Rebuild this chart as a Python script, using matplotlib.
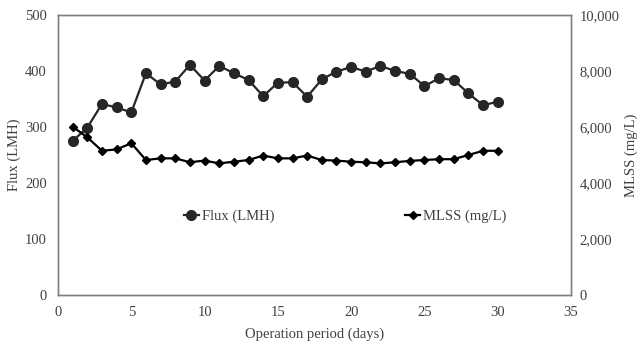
import matplotlib.pyplot as plt

days = list(range(1, 31))
flux = [275, 299, 341, 335, 326, 396, 376, 381, 411, 383,
        409, 396, 384, 355, 379, 380, 354, 385, 399, 407,
        399, 409, 400, 395, 373, 387, 384, 360, 339, 345]
mlss = [6010, 5630, 5150, 5200, 5420, 4820, 4880, 4880, 4740, 4800,
        4700, 4760, 4820, 4980, 4880, 4880, 4980, 4820, 4800, 4760,
        4740, 4700, 4740, 4790, 4820, 4850, 4850, 5000, 5150, 5150]

plt.rcParams["font.family"] = "Liberation Serif"
text_color = "#404040"
spine_color = "#808080"
fs = 10.5

fig = plt.figure(figsize=(6.43, 3.47), dpi=100)
ax = fig.add_axes([0.0902, 0.1499, 0.7978, 0.8069])
ax2 = ax.twinx()

l1, = ax.plot(days, flux, color="#262626", marker="o", markersize=7,
              linewidth=1.6, label="Flux (LMH)")
l2, = ax2.plot(days, mlss, color="black", marker="D", markersize=4.5,
               linewidth=1.6, label="MLSS (mg/L)")

ax.set_xlim(0, 35)
ax.set_ylim(0, 500)
ax2.set_ylim(0, 10000)
ax.set_xticks(range(0, 36, 5))
ax.set_yticks(range(0, 501, 100))
ax2.set_yticks(range(0, 10001, 2000))
ax2.set_yticklabels([f"{v:,}" for v in range(0, 10001, 2000)])

ax.tick_params(axis="y", length=0, labelsize=fs, colors=text_color, pad=8)
ax.tick_params(axis="x", length=0, labelsize=fs, colors=text_color, pad=8)
ax2.tick_params(length=0, labelsize=fs, colors=text_color, pad=6)
for a in (ax, ax2):
    for s in a.spines.values():
        s.set_color(spine_color)
        s.set_linewidth(1.0)

ax.set_xlabel("Operation period (days)", fontsize=fs, color=text_color,
              labelpad=6)
ax.set_ylabel("Flux (LMH)", fontsize=fs, color=text_color, labelpad=3)
ax2.set_ylabel("MLSS (mg/L)", fontsize=fs, color=text_color, labelpad=4)

ax.legend(handles=[l1, l2], ncol=2, frameon=False, fontsize=fs,
          loc="center", bbox_to_anchor=(0.56, 0.28), columnspacing=9,
          handlelength=1.0, handletextpad=0.2, labelcolor=text_color)

fig.savefig("out.png")
